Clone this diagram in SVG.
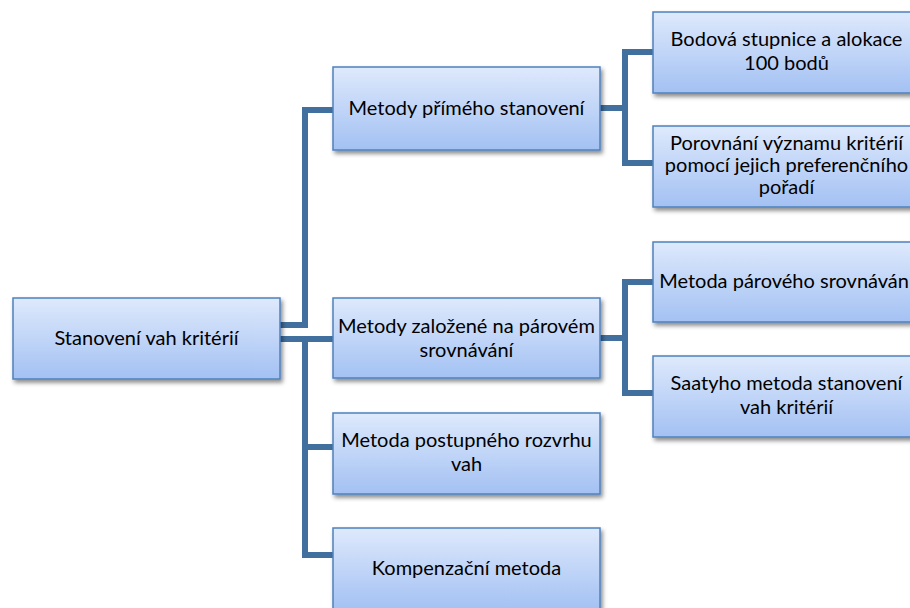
<svg xmlns="http://www.w3.org/2000/svg" width="910" height="608" viewBox="0 0 910 608">
<defs>
<linearGradient id="g" x1="0" y1="0" x2="0" y2="1">
<stop offset="0" stop-color="#dee9fc"/>
<stop offset="1" stop-color="#a3c1f3"/>
</linearGradient>
<filter id="sh" x="-10%" y="-10%" width="125%" height="135%">
<feDropShadow dx="2" dy="3" stdDeviation="2" flood-color="#000" flood-opacity="0.45"/>
</filter>
</defs>
<style>
.box{fill:url(#g);stroke:#4f81bd;stroke-width:1.5;filter:url(#sh)}
.t{font-family:Lato,"Noto Sans",sans-serif;font-size:20px;fill:#000;text-anchor:middle}
.c{fill:none;stroke:#41709f;stroke-width:6}
</style>
<rect width="910" height="608" fill="#fff"/>
<g id="connectors">
<polyline class="c" points="280,325 305,325 305,110 333,110"/>
<polyline class="c" points="280,339 333,339"/>
<polyline class="c" points="305,339 305,555 333,555"/>
<polyline class="c" points="305,447 333,447"/>
<polyline class="c" points="600,108 625,108"/>
<polyline class="c" points="653,52 625,52 625,163 653,163"/>
<polyline class="c" points="600,338 625,338"/>
<polyline class="c" points="653,282 625,282 625,393 653,393"/>
</g>
<g id="root"><rect class="box" x="13" y="298" width="267" height="81"/><text class="t" x="146.5" y="345">Stanovení vah kritérií</text></g>
<g id="n1"><rect class="box" x="333" y="67" width="267" height="83"/><text class="t" x="466.5" y="115">Metody přímého stanovení</text></g>
<g id="n2"><rect class="box" x="333" y="298" width="267" height="80"/><text class="t" x="466.5" y="333">Metody založené na párovém</text><text class="t" x="466.5" y="357">srovnávání</text></g>
<g id="n3"><rect class="box" x="333" y="413" width="267" height="81"/><text class="t" x="466.5" y="447">Metoda postupného rozvrhu</text><text class="t" x="466.5" y="471">vah</text></g>
<g id="n4"><rect class="box" x="333" y="528" width="267" height="82"/><text class="t" x="466.5" y="575">Kompenzační metoda</text></g>
<g id="n11"><rect class="box" x="653" y="12" width="267" height="81"/><text class="t" x="786.5" y="46">Bodová stupnice a alokace</text><text class="t" x="786.5" y="70">100 bodů</text></g>
<g id="n12"><rect class="box" x="653" y="126" width="267" height="81"/><text class="t" x="786.5" y="150">Porovnání významu kritérií</text><text class="t" x="786.5" y="172">pomocí jejich preferenčního</text><text class="t" x="786.5" y="194">pořadí</text></g>
<g id="n21"><rect class="box" x="653" y="242" width="267" height="80"/><text class="t" x="786.5" y="288">Metoda párového srovnávání</text></g>
<g id="n22"><rect class="box" x="653" y="356" width="267" height="81"/><text class="t" x="786.5" y="390">Saatyho metoda stanovení</text><text class="t" x="786.5" y="414">vah kritérií</text></g>
</svg>
